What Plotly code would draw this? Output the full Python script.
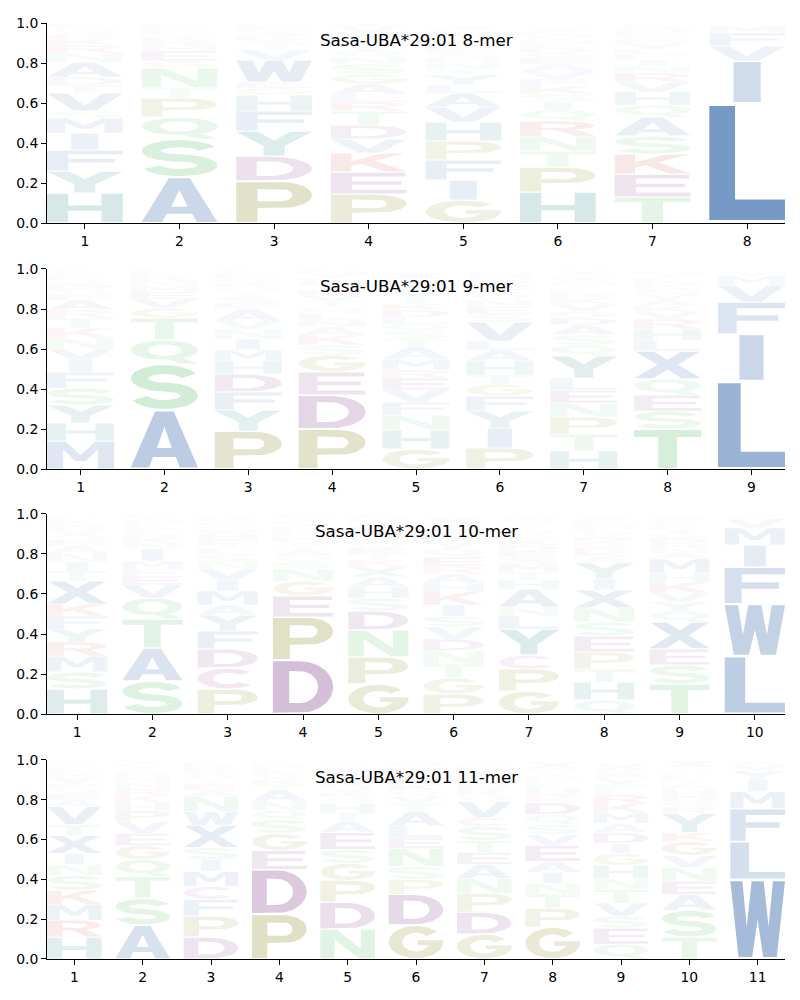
import numpy as np
import plotly.graph_objects as go

# letters are listed bottom -> top for each position, heights are the probabilities
titles = ["Sasa-UBA*29:01 8-mer", "Sasa-UBA*29:01 9-mer",
          "Sasa-UBA*29:01 10-mer", "Sasa-UBA*29:01 11-mer"]

mer8_letters = ["HYFIMSVTDANRKEQGL", "ASQPTNGEMRKVFLDH", "PDYFHGEWVTSKANLQ",
                "PEKVDTRLAGSNQIFMHYW", "GIFPHVALYTNMSEDKQRWCX", "HPTNRQISKFVAEGDLMYWCX",
                "TEKSAQHVRNIFLYDGPMWC", "LIVFMY"]
mer8_heights = [
    [.15, .11, .105, .085, .075, .035, .09, .04, .04, .075, .045, .04, .03, .025, .02, .015, .015],
    [.23, .19, .11, .095, .05, .1, .035, .05, .025, .025, .02, .02, .015, .015, .01, .01],
    [.21, .125, .125, .1, .08, .035, .03, .11, .05, .025, .025, .02, .02, .015, .015, .015],
    [.145, .11, .095, .07, .07, .07, .045, .04, .05, .05, .05, .035, .03, .025, .02, .015, .03, .025, .02],
    [.115, .1, .1, .095, .095, .075, .07, .04, .05, .03, .03, .025, .025, .02, .02, .02, .015, .015, .01, .02, .015],
    [.155, .125, .08, .075, .075, .055, .04, .04, .04, .035, .04, .035, .03, .025, .025, .02, .015, .015, .02, .015, .02],
    [.13, .115, .1, .09, .095, .06, .065, .05, .045, .035, .03, .03, .025, .025, .02, .02, .02, .015, .015, .01],
    [.6, .21, .075, .065, .035, .01],
]

mer9_letters = ["MHYSFIVNKTRAEQDGLPWC", "ASQTGVEMNRKLF", "PYFDHMINVAESTQKGRLWC",
                "PDEGSKANLQTVRIHFYMC", "GHNFVERMATSQLDKIYPWCX", "PIYFGTHALVSENQKRDMWC",
                "HTPNELYQSADGVKRFIMWCX", "TSEQXLHRVKAYNGDFIMP", "LIFVMYW"]
mer9_heights = [
    [.14, .09, .09, .085, .08, .06, .055, .055, .05, .05, .04, .05, .03, .025, .025, .02, .02, .015, .01, .01],
    [.295, .23, .12, .11, .05, .045, .035, .03, .025, .02, .015, .015, .01],
    [.19, .105, .09, .09, .065, .055, .055, .05, .04, .06, .03, .03, .025, .025, .02, .02, .015, .015, .01, .01],
    [.2, .17, .115, .085, .05, .05, .04, .035, .035, .03, .03, .03, .025, .02, .02, .02, .02, .015, .01],
    [.1, .095, .075, .065, .06, .06, .04, .055, .06, .04, .04, .035, .035, .035, .03, .03, .03, .03, .02, .015, .03],
    [.105, .1, .085, .075, .06, .045, .07, .055, .045, .095, .04, .035, .035, .03, .025, .025, .02, .02, .015, .01],
    [.09, .085, .085, .07, .065, .06, .11, .055, .05, .05, .035, .035, .035, .03, .025, .02, .02, .015, .02, .015, .02],
    [.2, .09, .08, .08, .14, .055, .055, .05, .035, .03, .03, .025, .025, .02, .02, .02, .015, .015, .01],
    [.44, .235, .16, .085, .045, .015, .01],
]

mer10_letters = ["HSMRYFKXTINAEQVDGLP", "SATQVEFMINKRLGDHYP", "PCDFYAMIVNSLTEHWQGKR",
                 "DPEGNSQATVKLRHYFIMC", "GPNDSHAXKTEQVRYFILMC", "PGTNDVSIKHAREQYFLMCWX",
                 "GPCYLNAHTMSEDKQRFIVWX", "QHTPESNXIYAKRGDVLMFCW", "TSEXQYVKHMANRDGIFLPWC",
                 "LWFIMVY"]
mer10_heights = [
    [.125, .085, .08, .07, .065, .065, .06, .115, .05, .045, .045, .035, .03, .025, .025, .02, .02, .02, .015],
    [.165, .165, .145, .105, .065, .045, .035, .04, .06, .03, .025, .02, .02, .02, .015, .015, .015, .015],
    [.125, .105, .095, .09, .08, .05, .07, .055, .055, .035, .035, .03, .025, .025, .025, .02, .02, .02, .015, .015],
    [.27, .215, .105, .075, .06, .035, .03, .03, .025, .02, .02, .02, .015, .015, .015, .015, .01, .01, .015],
    [.15, .135, .135, .095, .065, .055, .05, .05, .035, .03, .03, .025, .025, .02, .02, .02, .015, .015, .015, .015],
    [.1, .08, .07, .065, .06, .06, .055, .055, .065, .045, .045, .04, .045, .04, .03, .025, .025, .02, .015, .01, .03],
    [.115, .11, .07, .13, .065, .045, .09, .045, .04, .04, .035, .03, .03, .025, .025, .02, .02, .015, .015, .015, .015],
    [.07, .09, .065, .085, .08, .07, .07, .09, .055, .08, .03, .025, .025, .025, .025, .02, .02, .02, .015, .015, .015],
    [.15, .095, .08, .135, .055, .045, .045, .055, .045, .07, .03, .025, .025, .025, .02, .02, .02, .015, .015, .015, .01],
    [.29, .26, .185, .11, .085, .045, .015],
]

mer11_letters = ["HRMKSNIXTVAEQFYDGLPCW", "ASTQGEVPHKRNMDFILY", "DPFCMISXWNAETQGKRL",
                 "PDEGSQNATKVRLHYF", "NDPGSEATHQKVRLIYFMCWX", "GDPSNELATVQKHRIFYMC",
                 "GDPNAETSCVQKRHILYFMWX", "GPTNIAEVSQDKRHLFMYCWX", "QESVTNHGIDAMKRLFYPCWX",
                 "TSAENVGKYRQDHMIFLPCWX", "WLFMIYVA"]
mer11_heights = [
    [.11, .085, .08, .07, .075, .055, .055, .09, .055, .09, .035, .03, .025, .025, .025, .02, .02, .02, .015, .01, .01],
    [.17, .135, .11, .085, .07, .06, .06, .055, .04, .035, .035, .03, .025, .02, .02, .015, .015, .015],
    [.11, .105, .085, .065, .075, .06, .06, .11, .07, .075, .03, .03, .025, .02, .02, .02, .015, .015],
    [.225, .225, .095, .085, .07, .045, .045, .06, .025, .025, .02, .02, .015, .015, .01, .01],
    [.15, .135, .11, .085, .07, .085, .055, .045, .045, .03, .025, .025, .02, .02, .015, .015, .015, .01, .015, .01, .015],
    [.17, .155, .075, .065, .09, .055, .06, .07, .04, .035, .03, .03, .025, .02, .02, .015, .015, .015, .01],
    [.125, .11, .095, .075, .07, .06, .06, .07, .045, .08, .03, .025, .025, .025, .02, .02, .015, .015, .01, .01, .015],
    [.16, .095, .07, .055, .055, .055, .08, .055, .05, .05, .06, .025, .025, .025, .02, .02, .015, .015, .01, .02, .03],
    [.075, .08, .06, .065, .07, .055, .065, .06, .05, .055, .045, .055, .045, .045, .025, .025, .025, .025, .015, .01, .03],
    [.11, .135, .08, .065, .07, .06, .07, .045, .095, .03, .03, .03, .025, .025, .02, .02, .02, .015, .01, .01, .03],
    [.4, .19, .165, .085, .06, .045, .03, .015],
]

panels = [(titles[0], mer8_letters, mer8_heights),
          (titles[1], mer9_letters, mer9_heights),
          (titles[2], mer10_letters, mer10_heights),
          (titles[3], mer11_letters, mer11_heights)]

# colour groups (alpha is taken from the letter height)
BLUE, TEAL, GREEN = (66, 113, 175), (40, 130, 130), (86, 190, 102)
OLIVE, PURPLE, RED, PINK = (139, 139, 42), (125, 55, 132), (200, 60, 60), (160, 70, 140)
COLORS = {}
for aa in "AFILMVWX":
    COLORS[aa] = BLUE
for aa in "HY":
    COLORS[aa] = TEAL
for aa in "STNQ":
    COLORS[aa] = GREEN
for aa in "PG":
    COLORS[aa] = OLIVE
for aa in "DE":
    COLORS[aa] = PURPLE
for aa in "KR":
    COLORS[aa] = RED
COLORS["C"] = PINK


# ---- simple block glyphs in a unit box ----
def arc(cx, cy, rx, ry, a0, a1, n=40):
    t = np.radians(np.linspace(a0, a1, n))
    return [(cx + rx * np.cos(u), cy + ry * np.sin(u)) for u in t]


def stroke(path, wx, wy):
    p = np.array(path)
    d = np.gradient(p, axis=0)
    d = d / np.hypot(d[:, 0], d[:, 1])[:, None]
    off = np.stack([-d[:, 1] * wx / 2, d[:, 0] * wy / 2], axis=1)
    return [tuple(q) for q in p + off] + [tuple(q) for q in (p - off)[::-1]]


def area(c):
    x = np.array([q[0] for q in c])
    y = np.array([q[1] for q in c])
    return 0.5 * np.sum(x * np.roll(y, -1) - np.roll(x, -1) * y)


def orient(c, ccw):
    return c if (area(c) > 0) == ccw else c[::-1]


raw = {
    "A": [([(0, 0), (.27, 0), (.33, .19), (.67, .19), (.73, 0), (1, 0), (.64, 1), (.36, 1)], 0),
          ([(.39, .35), (.61, .35), (.5, .73)], 1)],
    "C": [(arc(.5, .5, .5, .5, 40, 320) + arc(.5, .5, .25, .29, 320, 40), 0)],
    "D": [([(0, 0), (.45, 0)] + arc(.45, .5, .55, .5, -90, 90)[1:-1] + [(.45, 1), (0, 1)], 0),
          ([(.27, .19), (.45, .19)] + arc(.45, .5, .3, .31, -90, 90)[1:-1] + [(.45, .81), (.27, .81)], 1)],
    "E": [([(0, 0), (1, 0), (1, .18), (.28, .18), (.28, .42), (.93, .42), (.93, .59), (.28, .59),
            (.28, .82), (.98, .82), (.98, 1), (0, 1)], 0)],
    "F": [([(0, 0), (.28, 0), (.28, .41), (.9, .41), (.9, .59), (.28, .59), (.28, .82), (1, .82),
            (1, 1), (0, 1)], 0)],
    "G": [(arc(.5, .5, .5, .5, 40, 360) + [(1, .56), (.53, .56), (.53, .4), (.75, .4)]
           + arc(.5, .5, .25, .29, 330, 40), 0)],
    "H": [([(0, 0), (.28, 0), (.28, .41), (.72, .41), (.72, 0), (1, 0), (1, 1), (.72, 1), (.72, .59),
            (.28, .59), (.28, 1), (0, 1)], 0)],
    "I": [([(.32, 0), (.68, 0), (.68, 1), (.32, 1)], 0)],
    "K": [([(0, 0), (.27, 0), (.27, .3), (.4, .44), (.72, 0), (1, 0), (.58, .6), (.97, 1), (.67, 1),
            (.27, .58), (.27, 1), (0, 1)], 0)],
    "L": [([(0, 0), (1, 0), (1, .18), (.34, .18), (.34, 1), (0, 1)], 0)],
    "M": [([(0, 0), (.24, 0), (.24, .72), (.42, .28), (.58, .28), (.76, .72), (.76, 0), (1, 0), (1, 1),
            (.72, 1), (.5, .5), (.28, 1), (0, 1)], 0)],
    "N": [([(0, 0), (.26, 0), (.26, .67), (.7, 0), (1, 0), (1, 1), (.74, 1), (.74, .33), (.3, 1), (0, 1)], 0)],
    "O": [(arc(.5, .5, .5, .5, 0, 360), 0), (arc(.5, .5, .25, .3, 0, 360), 1)],
    "P": [([(0, 0), (.28, 0), (.28, .35), (.6, .35)] + arc(.6, .675, .4, .325, -90, 90)[1:-1] + [(.6, 1), (0, 1)], 0),
          ([(.28, .52), (.6, .52)] + arc(.6, .675, .14, .155, -90, 90)[1:-1] + [(.6, .83), (.28, .83)], 1)],
    "Q": [(arc(.5, .58, .5, .42, 0, 360), 0), (arc(.5, .58, .25, .25, 0, 360), 1),
          ([(.52, .2), (.72, 0), (1, 0), (.78, .24)], 0)],
    "R": [([(0, 0), (.28, 0), (.28, .4), (.46, .4), (.72, 0), (1, 0), (.72, .45)]
           + arc(.58, .7, .4, .3, -40, 90) + [(0, 1)], 0),
          ([(.28, .55), (.58, .55)] + arc(.58, .7, .15, .15, -90, 90)[1:-1] + [(.58, .85), (.28, .85)], 1)],
    "S": [(stroke(arc(.5, .7, .37, .2, 15, 270) + arc(.5, .3, .37, .2, 90, -165)[1:], .26, .2), 0)],
    "T": [([(.36, 0), (.64, 0), (.64, .82), (1, .82), (1, 1), (0, 1), (0, .82), (.36, .82)], 0)],
    "V": [([(.35, 0), (.65, 0), (1, 1), (.73, 1), (.5, .3), (.27, 1), (0, 1)], 0)],
    "W": [([(.15, 0), (.4, 0), (.5, .5), (.6, 0), (.85, 0), (1, 1), (.78, 1), (.7, .4), (.61, 1),
            (.39, 1), (.3, .4), (.22, 1), (0, 1)], 0)],
    "X": [([(0, 0), (.29, 0), (.5, .33), (.71, 0), (1, 0), (.65, .51), (.98, 1), (.7, 1), (.5, .69),
            (.3, 1), (.02, 1), (.35, .51)], 0)],
    "Y": [([(.36, 0), (.64, 0), (.64, .4), (1, 1), (.71, 1), (.5, .63), (.29, 1), (0, 1), (.36, .4)], 0)],
}
GLYPHS = {k: [orient(list(c), not hole) for c, hole in v] for k, v in raw.items()}

WIDTH = 0.8
VPAD = 0.05

# panel vertical domains (top to bottom)
domains = [[0.7862, 1.0], [0.5234, 0.7372], [0.2617, 0.4755], [0.0, 0.2128]]

fig = go.Figure()
axis_font = dict(family="DejaVu Sans", size=13.9, color="black")

for k, (title, letters, heights) in enumerate(panels):
    sfx = "" if k == 0 else str(k + 1)
    for pos, (word, hs) in enumerate(zip(letters, heights), start=1):
        base = 0.0
        for ch, h in zip(word, hs):
            xs, ys = [], []
            for contour in GLYPHS[ch]:
                for gx, gy in contour:
                    xs.append(pos - WIDTH / 2 + WIDTH * gx)
                    ys.append(base + h * (VPAD / 2 + (1 - VPAD) * gy))
                xs.append(None)
                ys.append(None)
            r, g, b = COLORS[ch]
            a = min(1.2 * h, 1.0)
            fig.add_trace(go.Scatter(
                x=xs, y=ys, mode="lines", fill="toself", line=dict(width=0),
                fillcolor=f"rgba({r},{g},{b},{a:.3f})", hoverinfo="skip",
                showlegend=False, xaxis="x" + sfx, yaxis="y" + sfx))
            base += h

    n = len(letters)
    fig.update_layout(**{
        "xaxis" + sfx: dict(domain=[0, 1], anchor="y" + sfx, range=[1 - WIDTH / 2, n + WIDTH / 2],
                            tickvals=list(range(1, n + 1)), showgrid=False, zeroline=False,
                            showline=True, linecolor="black", linewidth=1, ticks="outside",
                            ticklen=5, tickwidth=1, tickcolor="black", tickfont=axis_font),
        "yaxis" + sfx: dict(domain=domains[k], anchor="x" + sfx, range=[0, 1],
                            tickvals=[0, 0.2, 0.4, 0.6, 0.8, 1.0], tickformat=".1f",
                            showgrid=False, zeroline=False, showline=True, linecolor="black",
                            linewidth=1, ticks="outside", ticklen=5, tickwidth=1,
                            tickcolor="black", tickfont=axis_font),
    })
    fig.add_annotation(text=title, xref="paper", yref="paper", x=0.5, y=domains[k][1],
                       xanchor="center", yanchor="top", yshift=-5, showarrow=False,
                       font=dict(family="DejaVu Sans", size=16.7, color="black"))

# page body adds an 8px margin, so the figure is 784x984
fig.update_layout(width=784, height=984, plot_bgcolor="white", paper_bgcolor="white",
                  margin=dict(l=39, r=7, t=13, b=31), hovermode=False)

fig.write_html("out.html")
